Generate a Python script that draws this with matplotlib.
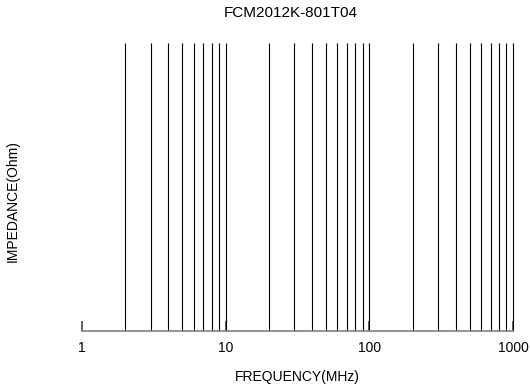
import matplotlib
matplotlib.use("Agg")
import matplotlib.pyplot as plt

plt.rcParams['font.family'] = ['Liberation Sans', 'DejaVu Sans']

title = "FCM2012K-801T04"
x_label = "FREQUENCY(MHz)"
y_label = "IMPEDANCE(Ohm)"
x_ticks = [1, 10, 100, 1000]
x_tick_labels = ["1", "10", "100", "1000"]
grid_freqs = [2, 3, 4, 5, 6, 7, 8, 9, 10,
              20, 30, 40, 50, 60, 70, 80, 90, 100,
              200, 300, 400, 500, 600, 700, 800, 900, 1000]

W, H = 530, 387
fig = plt.figure(figsize=(W/100, H/100), dpi=100)
ax = fig.add_axes([82/W, 1 - 331/H, (513 - 82)/W, (331 - 43)/H])
ax.set_xscale('log')
ax.set_xlim(1, 1000)
ax.set_ylim(0, 1)

ax.vlines(grid_freqs, 0, 1, colors='black', linewidth=0.8, clip_on=False)

for s in ['top', 'right', 'left']:
    ax.spines[s].set_visible(False)
ax.spines['bottom'].set_color('#808080')
ax.spines['bottom'].set_linewidth(1.2)

ax.set_xticks(x_ticks)
ax.set_xticklabels(x_tick_labels)
ax.xaxis.set_minor_locator(matplotlib.ticker.NullLocator())
ax.tick_params(axis='x', which='major', direction='in', length=7, width=1.2,
               color='#444444', labelsize=10, pad=7)
ax.set_yticks([])

fig.text(291/W, 1 - 13/H, title, fontsize=11, ha='center', va='center')
ax.set_xlabel(x_label, fontsize=10, labelpad=11)
fig.text(13/W, 1 - 201/H, y_label, fontsize=10, rotation=90,
         ha='center', va='center')

fig.savefig("out.png", dpi=100)
